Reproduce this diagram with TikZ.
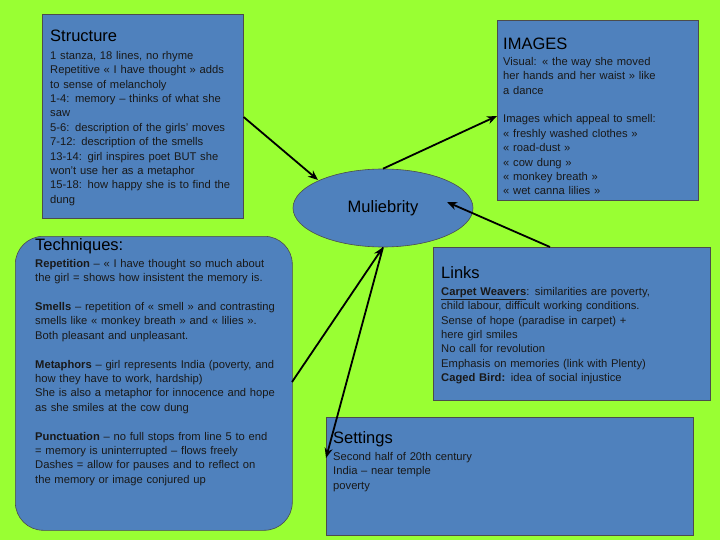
\documentclass[tikz,border=0pt]{standalone}
\usepackage{fontspec}
\setmainfont{Liberation Sans}
\usetikzlibrary{arrows.meta,shapes.geometric}
\definecolor{bg}{HTML}{99FF33}
\definecolor{box}{HTML}{4F81BD}
\begin{document}
\begin{tikzpicture}[x=1pt,y=-1pt,
 bx/.style={draw=black!70,fill=box,line width=0.6pt},
 txt/.style={anchor=north west,inner sep=0pt,align=left,font=\fontsize{11.2}{14.4}\selectfont,text=black!90},
 ttl/.style={anchor=north west,inner sep=0pt,font=\fontsize{16.5}{18}\selectfont},
 arr/.style={line width=1.8pt,-{Stealth[length=10pt,width=8pt]}}]
\useasboundingbox (0,0) rectangle (720,540);
\fill[bg] (0,0) rectangle (720,540);
\node[bx,minimum width=201pt,minimum height=204pt,anchor=north west,inner sep=0pt] (S) at (42,14) {};
\node[bx,minimum width=201pt,minimum height=180pt,anchor=north west,inner sep=0pt] (I) at (497,20) {};
\node[bx,rounded corners=28pt,minimum width=277pt,minimum height=294pt,anchor=north west,inner sep=0pt] (T) at (15,236) {};
\node[bx,minimum width=277pt,minimum height=153pt,anchor=north west,inner sep=0pt] (L) at (433,247) {};
\node[bx,minimum width=367pt,minimum height=118pt,anchor=north west,inner sep=0pt] (E) at (326,417) {};
\node[bx,ellipse,minimum width=180pt,minimum height=78pt,inner sep=0pt] (M) at (383,208) {};
\node[font=\fontsize{16.5}{18}\selectfont] (Mt) at (383,208) {Muliebrity};

\node[ttl] (St) at (50,30) {Structure};
\node[txt,text width=190pt] (Sx) at (50,51) {1 stanza, 18 lines, no rhyme\\Repetitive « I have thought » adds\\to sense of melancholy\\1-4: memory – thinks of what she\\saw\\5-6: description of the girls' moves\\7-12: description of the smells\\13-14: girl inspires poet BUT she\\won't use her as a metaphor\\15-18: how happy she is to find the\\dung};
\node[ttl] (It) at (503,38) {IMAGES};
\node[txt,text width=190pt] (Ix) at (503,57) {Visual: « the way she moved\\her hands and her waist » like\\a dance\\[14.4pt]Images which appeal to smell:\\« freshly washed clothes »\\« road-dust »\\« cow dung »\\« monkey breath »\\« wet canna lilies »};
\node[ttl] (Tt) at (35,238) {Techniques:};
\node[txt,text width=260pt] (Tx) at (35,259) {\textbf{Repetition} – « I have thought so much about\\the girl = shows how insistent the memory is.\\[14.4pt]\textbf{Smells} – repetition of « smell » and contrasting\\smells like « monkey breath » and « lilies ».\\Both pleasant and unpleasant.\\[14.4pt]\textbf{Metaphors} – girl represents India (poverty, and\\how they have to work, hardship)\\She is also a metaphor for innocence and hope\\as she smiles at the cow dung\\[14.4pt]\textbf{Punctuation} – no full stops from line 5 to end\\= memory is uninterrupted – flows freely\\Dashes = allow for pauses and to reflect on\\the memory or image conjured up};
\node[ttl] (Lt) at (441,266) {Links};
\node[txt,text width=265pt] (Lx) at (441,287) {\textbf{\underline{Carpet Weavers}}: similarities are poverty,\\child labour, difficult working conditions.\\Sense of hope (paradise in carpet) +\\here girl smiles\\No call for revolution\\Emphasis on memories (link with Plenty)\\\textbf{Caged Bird:} idea of social injustice};
\node[ttl] (Et) at (333,431) {Settings};
\node[txt,text width=300pt] (Ex) at (333,452) {Second half of 20th century\\India – near temple\\poverty};

\draw[arr] (S.east |- 0,117) -- (318,180);
\draw[arr] (M.north) -- (I.west |- 0,116);
\draw[arr] (550,247) -- (447,202);
\draw[arr] (292,382) -- (M.south);
\draw[arr] (M.south) -- (326,458);
\end{tikzpicture}
\end{document}
